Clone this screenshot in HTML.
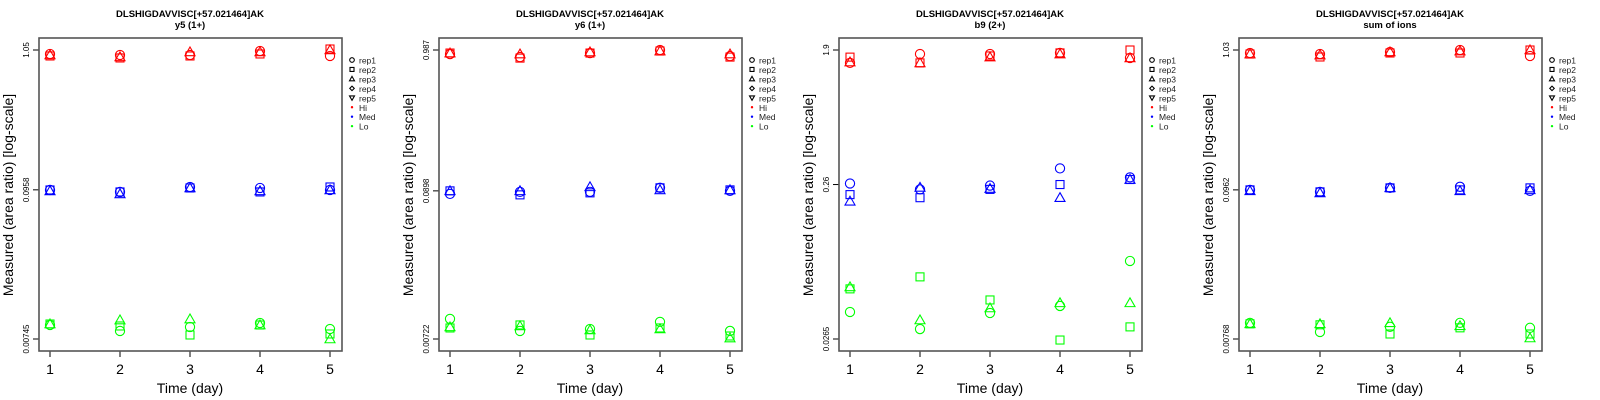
<!DOCTYPE html>
<html><head><meta charset="utf-8">
<style>
html,body{margin:0;padding:0;background:#fff;}
svg{display:block;font-family:"Liberation Sans",sans-serif;}
</style></head>
<body>
<svg id="chart" width="1600" height="400" viewBox="0 0 1600 400" xmlns="http://www.w3.org/2000/svg"></svg>
<script>
const days = [1,2,3,4,5];
const panelTitles = ["y5 (1+)","y6 (1+)","b9 (2+)","sum of ions"];
const peptide = "DLSHIGDAVVISC[+57.021464]AK";
const yTickMin = [0.00745,0.00722,0.0265,0.00768];
const yTickMid = [0.0958,0.0898,0.26,0.0962];
const yTickMax = [1.05,0.987,1.9,1.03];
const yTickLabels = [["0.00745","0.0958","1.05"],["0.00722","0.0898","0.987"],["0.0265","0.26","1.9"],["0.00768","0.0962","1.03"]];
const repNames = ["rep1","rep2","rep3","rep4","rep5"];
const levelNames = ["Hi","Med","Lo"];
const levelColors = ["#ff0000","#0000ff","#00ff00"];
// values[panel][level][rep][day]
const p1Hi = [[0.981,0.964,0.964,1.032,0.948],[0.948,0.916,0.948,0.981,1.068],[0.964,0.932,1.015,1.015,1.05]];
const p1Med = [[0.0956,0.0924,0.1006,0.0989,0.0956],[0.0956,0.0924,0.0989,0.0924,0.1006],[0.094,0.0893,0.0989,0.094,0.0956]];
const p1Lo = [[0.00947,0.00855,0.00915,0.0098,0.00884],[0.00963,0.00931,0.00798,0.00947,0.00812],[0.00963,0.01031,0.01049,0.00947,0.00745]];
const p2Hi = [[0.921,0.875,0.937,0.987,0.89],[0.937,0.86,0.937,0.97,0.875],[0.937,0.921,0.954,0.97,0.921]];
const p2Med = [[0.0853,0.0883,0.0883,0.0946,0.0898],[0.0898,0.0839,0.0868,0.0946,0.0913],[0.0898,0.0898,0.0961,0.0913,0.0913]];
const p2Lo = [[0.01016,0.00828,0.00856,0.00966,0.00828],[0.00871,0.00917,0.00773,0.00871,0.0076],[0.00886,0.00901,0.00842,0.00856,0.00734]];
const p3Hi = [[1.57,1.79,1.79,1.82,1.69],[1.71,1.57,1.74,1.82,1.9],[1.59,1.57,1.71,1.79,1.69]];
const p3Med = [[0.264,0.242,0.256,0.33,0.289],[0.224,0.214,0.242,0.26,0.28],[0.203,0.249,0.245,0.214,0.28]];
const p3Lo = [[0.0395,0.0307,0.0389,0.0432,0.084],[0.0556,0.0664,0.0472,0.0261,0.0317],[0.0572,0.0351,0.0419,0.0452,0.0452]];
const p4Hi = [[0.979,0.962,0.996,1.03,0.93],[0.962,0.915,0.979,0.979,1.03],[0.962,0.946,0.996,1.012,1.03]];
const p4Med = [[0.0962,0.093,0.0995,0.1013,0.0946],[0.0962,0.093,0.0995,0.0962,0.0995],[0.0946,0.0914,0.0995,0.0946,0.0962]];
const p4Lo = [[0.0101,0.00865,0.00944,0.0101,0.00928],[0.00993,0.00977,0.00836,0.00928,0.00836],[0.00993,0.00993,0.0101,0.0096,0.00781]];
const values = [[p1Hi,p1Med,p1Lo],[p2Hi,p2Med,p2Lo],[p3Hi,p3Med,p3Lo],[p4Hi,p4Med,p4Lo]];

const NS="http://www.w3.org/2000/svg";
const svg=document.getElementById('chart');
function mk(tag,attrs,parent,text){const e=document.createElementNS(NS,tag);for(const k in attrs)e.setAttribute(k,attrs[k]);if(text!==undefined)e.textContent=text;parent.appendChild(e);return e;}

function marker(g,shape,cx,cy,color,s){
  let e;
  if(shape===0){e=mk('circle',{cx:cx,cy:cy,r:4.6*s,fill:'none',stroke:color,'stroke-width':1.1},g);}
  else if(shape===1){const h=4*s;e=mk('rect',{x:cx-h,y:cy-h,width:2*h,height:2*h,fill:'none',stroke:color,'stroke-width':1.1},g);}
  else if(shape===2){const h=5*s;e=mk('polygon',{points:`${cx},${cy-h} ${cx+h},${cy+h*0.75} ${cx-h},${cy+h*0.75}`,fill:'none',stroke:color,'stroke-width':1.1},g);}
  else if(shape===3){const h=4.5*s;e=mk('polygon',{points:`${cx},${cy-h} ${cx+h},${cy} ${cx},${cy+h} ${cx-h},${cy}`,fill:'none',stroke:color,'stroke-width':1.1},g);}
  else {const h=5*s;e=mk('polygon',{points:`${cx},${cy+h} ${cx+h},${cy-h*0.75} ${cx-h},${cy-h*0.75}`,fill:'none',stroke:color,'stroke-width':1.1},g);}
  return e;
}

for(let p=0;p<4;p++){
  const ox=p*400;
  const g=mk('g',{transform:`translate(${ox},0)`},svg);
  
  
  const xS=d=>50+(d-1)*70;
  const lmin=Math.log(yTickMin[p]), lmax=Math.log(yTickMax[p]);
  const yS=v=>339-(Math.log(v)-lmin)/(lmax-lmin)*289;

  let t=mk('text',{x:190,y:17,'text-anchor':'middle','font-size':'9.5','font-weight':'bold'},g,peptide);
   
  t=mk('text',{x:190,y:28,'text-anchor':'middle','font-size':'9.5','font-weight':'bold'},g,panelTitles[p]);
   

  // y ticks
  const tv=[yTickMin[p],yTickMid[p],yTickMax[p]];
  for(let i=0;i<3;i++){
    const y=yS(tv[i]);
    mk('line',{x1:33,x2:39,y1:y,y2:y,stroke:'#000','stroke-width':1},g);
    const lt=mk('text',{x:0,y:0,'text-anchor':'middle','font-size':'8',transform:`translate(29,${y}) rotate(-90)`},g,yTickLabels[p][i]);
     
  }
  // x ticks
  for(const d of days){
    mk('line',{x1:xS(d),x2:xS(d),y1:351,y2:357,stroke:'#000','stroke-width':1},g);
    const lt=mk('text',{x:xS(d),y:374,'text-anchor':'middle','font-size':'14'},g,String(d));
     
  }
  t=mk('text',{x:190,y:393,'text-anchor':'middle','font-size':'14'},g,'Time (day)');
   
  t=mk('text',{x:0,y:0,'text-anchor':'middle','font-size':'14',transform:'translate(13,195) rotate(-90)'},g,'Measured (area ratio) [log-scale]');
   

  // points
  for(let l=0;l<3;l++){
    for(let r=0;r<values[p][l].length;r++){
      for(let di=0;di<days.length;di++){
        const m=marker(g,r,xS(days[di]),yS(values[p][l][r][di]),levelColors[l],1);
        
        
      }
    }
  }
  const box=mk('rect',{x:39,y:38,width:303,height:313,fill:'none',stroke:'#555','stroke-width':1.6},g);
   

  // legend
  const lg=mk('g',{},g);
   
  for(let i=0;i<8;i++){
    const y=61+i*9.45;
    if(i<5){ marker(lg,i,352,y-1,'#000',0.5); }
    else { mk('circle',{cx:352,cy:y-1,r:1.2,fill:levelColors[i-5]},lg); }
    const le=mk('text',{x:359,y:y+2.5,'font-size':'8.5',fill:'#222'},lg,i<5?repNames[i]:levelNames[i-5]);
     
  }
}
</script>
</body></html>
